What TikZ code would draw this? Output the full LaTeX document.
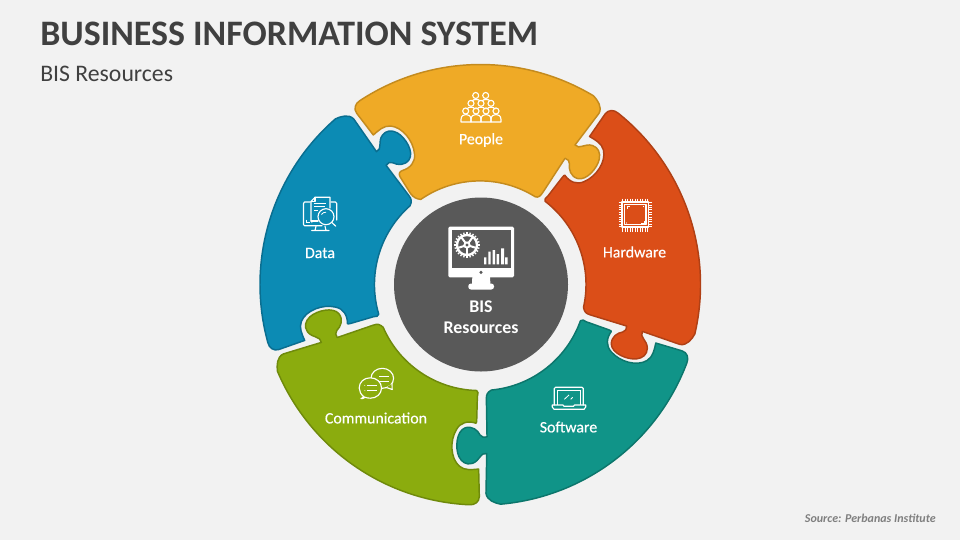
\documentclass[tikz,border=0pt]{standalone}
\usepackage{fontspec}
\setmainfont{Carlito}
\newfontfamily\medfont[FakeBold=0.35]{Carlito}
\definecolor{bgc}{HTML}{F2F2F2}
\definecolor{inkc}{HTML}{404040}
\definecolor{srcc}{HTML}{7F7F7F}
\definecolor{discc}{HTML}{595959}
\definecolor{yelF}{HTML}{EFAA26}\definecolor{yelS}{HTML}{C48B1E}
\definecolor{orgF}{HTML}{DB4E18}\definecolor{orgS}{HTML}{B04015}
\definecolor{teaF}{HTML}{109488}\definecolor{teaS}{HTML}{0C766C}
\definecolor{greF}{HTML}{8BAC0E}\definecolor{greS}{HTML}{6F8A0B}
\definecolor{bluF}{HTML}{0C8BB4}\definecolor{bluS}{HTML}{0A6E90}
\tikzset{
  lbl/.style={text=white,font=\medfont\fontsize{11.9pt}{14pt}\selectfont,inner sep=0pt,anchor=center},
  hub/.style={text=white,font=\bfseries\fontsize{13.4pt}{15pt}\selectfont,inner sep=0pt,anchor=center},
  ico/.style={draw=white,line width=0.85pt,line cap=round,line join=round},
  icofine/.style={draw=white,line width=0.6pt,line cap=butt},
  piecestyle/.style={line width=1.1pt,line join=round}
}
\def\outerandtab{(123.3:219.5) arc[start angle=123.3,end angle=59,radius=219.5]
  .. controls (117,184) and (122,177) .. (118.5,170.7)
  -- (94.5,139)
  .. controls (99,134) and (104,141) .. (112,138.5)
  .. controls (118,136.5) and (120,131) .. (118.8,125)
  .. controls (117,116) and (106,103) .. (97,105.5)
  .. controls (90,107.5) and (88,115) .. (89,120)
  .. controls (89.5,123) and (87,125) .. (84.5,125.7)}
\def\notchandclose{.. controls (-70,116) and (-65,122) .. (-66,130)
  .. controls (-67,143) and (-78,157) .. (-90,158)
  .. controls (-97,158.5) and (-102,153.5) .. (-107.2,149)
  -- (-123.8,170.7)
  .. controls (-127,175) and (-125.5,180.5) .. cycle}
\def\yellowpath{\outerandtab
  -- (62.8,92.3)
  .. controls (60,88) and (58,86) .. (54.6,87.3)
  arc[start angle=58,end angle=124.7,radius=104]
  .. controls (-64,85) and (-67,86.5) .. (-70,90.5)
  -- (-80.5,107.3)
  .. controls (-82,110.5) and (-81,112.5) .. (-78,113.5)
  \notchandclose}
\def\piecepath{\outerandtab
  -- (63,95)
  .. controls (60,90.5) and (58,90) .. (53.4,90.4)
  arc[start angle=59.4,end angle=124.4,radius=105]
  .. controls (-62,86) and (-62,88.5) .. (-63.5,91)
  -- (-76.5,110)
  .. controls (-78,112.5) and (-78.5,113) .. (-78,113.5)
  \notchandclose}
\newcommand{\puzzle}[6]{%
  \begin{scope}[shift={(480.5+#5,284+#6)},x=0.75pt,y=0.75pt,rotate=#1]
    \path[piecestyle,fill=#2,draw=#3] #4;
  \end{scope}}
\begin{document}
\begin{tikzpicture}[x=0.75pt,y=-0.75pt]
\useasboundingbox (0,0) rectangle (960,540);
\fill[bgc] (0,0) rectangle (960,540);

\node[anchor=west,inner sep=0pt,text=inkc,font=\bfseries\fontsize{26.9pt}{30pt}\selectfont] (title) at (40,34) {BUSINESS INFORMATION SYSTEM};
\node[anchor=west,inner sep=0pt,text=inkc,font=\fontsize{17.8pt}{20pt}\selectfont] (subtitle) at (40,73.5) {BIS Resources};
\node[anchor=east,inner sep=0pt,text=srcc,font=\bfseries\itshape\fontsize{9pt}{10pt}\selectfont] (source) at (936,518) {Source: Perbanas Institute};

\puzzle{0}{yelF}{yelS}{\yellowpath}{0}{0}
\puzzle{-72}{orgF}{orgS}{\piecepath}{0.5}{0.5}
\puzzle{-144}{teaF}{teaS}{\piecepath}{1}{1.5}
\puzzle{-216}{greF}{greS}{\piecepath}{-1}{1.5}
\puzzle{-288}{bluF}{bluS}{\piecepath}{-1}{0.5}

\fill[discc] (481,284.5) circle[radius=87];

% People icon
\foreach \cx/\cy in {475.7/95.5,485.7/95.5,471/103.3,481/103.3,491/103.3,465.7/111,476/111,486/111,496/111}
  \draw[ico] (\cx,\cy) circle[radius=3];
\foreach \sx in {461,471,481,491}
  \draw[ico] (\sx,122) -- (\sx,119.5) .. controls (\sx,115.5) and (\sx+3,114.5) .. (\sx+5,114.5) .. controls (\sx+7,114.5) and (\sx+10,115.5) .. (\sx+10,119.5) -- (\sx+10,122) -- cycle;
\foreach \sx in {467,477,487}
  \draw[ico] (\sx,109) .. controls (\sx+1,107.5) and (\sx+2,107.2) .. (\sx+4,107.2) .. controls (\sx+6,107.2) and (\sx+7,107.5) .. (\sx+8,109);
\foreach \sx in {472,482}
  \draw[ico] (\sx,101) .. controls (\sx+1,99.8) and (\sx+2,99.5) .. (\sx+4,99.5) .. controls (\sx+6,99.5) and (\sx+7,99.8) .. (\sx+7.5,100.5);

% Hardware icon
\draw[ico] (622,202) rectangle (648.5,227);
\draw[ico] (624.5,204.5) rectangle (646,224.5);
\foreach \t in {0,...,10} {
  \draw[icofine] (622.5+2.5*\t,198.5) -- (622.5+2.5*\t,202);
  \draw[icofine] (622.5+2.5*\t,227) -- (622.5+2.5*\t,231.5);
  \draw[icofine] (618.5,202.5+2.4*\t) -- (622,202.5+2.4*\t);
  \draw[icofine] (648.5,202.5+2.4*\t) -- (652,202.5+2.4*\t);
}
\draw[icofine] (627,208.5) -- (627,206.5) -- (629.5,206.5);
\draw[icofine] (641,223) -- (644,223) -- (644,221);
\fill[white] (626.5,223) circle[radius=0.6] (643.5,206.5) circle[radius=0.6];

% Software icon
\draw[ico] (554.3,405) -- (554.3,388.5) -- (555.5,387.3) -- (582,387.3) -- (583.3,388.5) -- (583.3,405);
\draw[icofine] (557.3,405) -- (557.3,390.7) -- (580,390.7) -- (580,405);
\draw[ico] (552.3,405) -- (563,405) -- (564,406.3) -- (573.5,406.3) -- (574.5,405) -- (585.7,405) -- (585.7,407) -- (584,409.3) -- (554,409.3) -- (552.3,407) -- cycle;
\draw[icofine] (564.3,399.3) -- (569,395) (570.7,399.3) -- (572.7,397.3);

% Communication icon
\draw[ico] (382.3,378.3) ellipse[x radius=11.3,y radius=10];
\draw[ico,fill=greF] (392,383.5) -- (392.2,389.5) -- (386.5,387.5);
\draw[icofine] (379,376.5) -- (389,376.5);
\draw[icofine] (376,381) -- (389,381);
\draw[ico,fill=greF] (364,397) .. controls (361,394.5) and (359.2,391.5) .. (359.2,388) .. controls (359.2,382) and (364,377.8) .. (370.3,377.8) .. controls (376.5,377.8) and (381.5,382) .. (381.5,388) .. controls (381.5,394) and (376.5,398.2) .. (370.3,398.2) .. controls (368.5,398.2) and (366.5,397.8) .. (365,397.2) .. controls (364,398.3) and (362.5,398.8) .. (361,398.6) .. controls (362.5,397.5) and (363.5,397.5) .. (364,396.5);
\draw[white,line width=0.9pt] (366.5,385.3) -- (377,385.3) (366.5,390.7) -- (377,390.7);
\fill[white] (364.8,385.3) circle[radius=0.5] (364.8,390.7) circle[radius=0.5];

% Data icon
\draw[ico] (310,202) -- (304.5,202) -- (303.5,203.5) -- (303.5,224.5) -- (304.5,225.7) -- (322,225.7);
\draw[ico] (331,202) -- (335.5,202) -- (336.7,203.5) -- (336.7,220);
\draw[ico] (316,226) -- (315,230.5) (325,226) -- (326,230.5) (311.7,230.5) -- (329,230.5);
\draw[ico] (311,221) -- (311,201.5) -- (315,197.3) -- (330,197.3) -- (330,208);
\draw[ico] (315,197.3) -- (315,201.5) -- (311,201.5);
\draw[ico] (311,221) -- (318,221);
\draw[icofine] (314,203) -- (325.5,203) (314,206.5) -- (325,206.5) (314,210.5) -- (318,210.5);
\draw[ico,fill=bluF] (326,216.7) circle[radius=8];
\draw[ico] (331.7,222.4) -- (335.8,226.2);
\draw[icofine] (321.5,214.5) .. controls (322.5,212.8) and (324,212.2) .. (326,212.2);
\draw[icofine] (306.5,219.5) -- (306.5,222.5) -- (309.5,222.5);
\fill[white] (311.8,222.5) circle[radius=0.5];

% Hub monitor
\fill[white,rounded corners=1pt] (448.3,226.7) rectangle (514,277.3);
\fill[discc] (451.7,230) rectangle (510.7,268.3);
\fill[discc] (481,272.3) circle[radius=1.7];
\fill[white] (472.3,277) -- (490,277) -- (490.5,285.5) -- (472,285.5) -- cycle;
\fill[white,rounded corners=2pt] (468.3,283.5) rectangle (494,289.5);
% gear
\foreach \a in {0,15,...,345}
  \draw[white,line width=1pt] (467,245) ++(\a:9.5) -- ++(\a:3.3);
\draw[white,line width=1.7pt] (467,245) circle[radius=10];
\foreach \a in {18,90,162,234,306}
  \draw[white,line width=1.5pt] (467,245) -- ++(\a:9);
\fill[white] (467,245) circle[radius=3.6];
\fill[discc] (467,245) circle[radius=1.6];
% bars
\fill[white] (484,257.3) rectangle (486.3,264.3) (488.3,251.7) rectangle (490.7,264.3)
  (492.7,250) rectangle (495,264.3) (496.7,254) rectangle (499,264.3)
  (501,248.3) rectangle (504,264.3) (505,257.3) rectangle (507.7,264.3);

\node[lbl] (people) at (481,140) {People};
\node[lbl] (hardware) at (634.5,252) {Hardware};
\node[lbl] (software) at (568.5,427) {Software};
\node[lbl] (communication) at (376,418) {Communication};
\node[lbl] (data) at (320,253) {Data};
\node[hub] (hubA) at (481,306.5) {BIS};
\node[hub] (hubB) at (481,328) {Resources};
\end{tikzpicture}
\end{document}
